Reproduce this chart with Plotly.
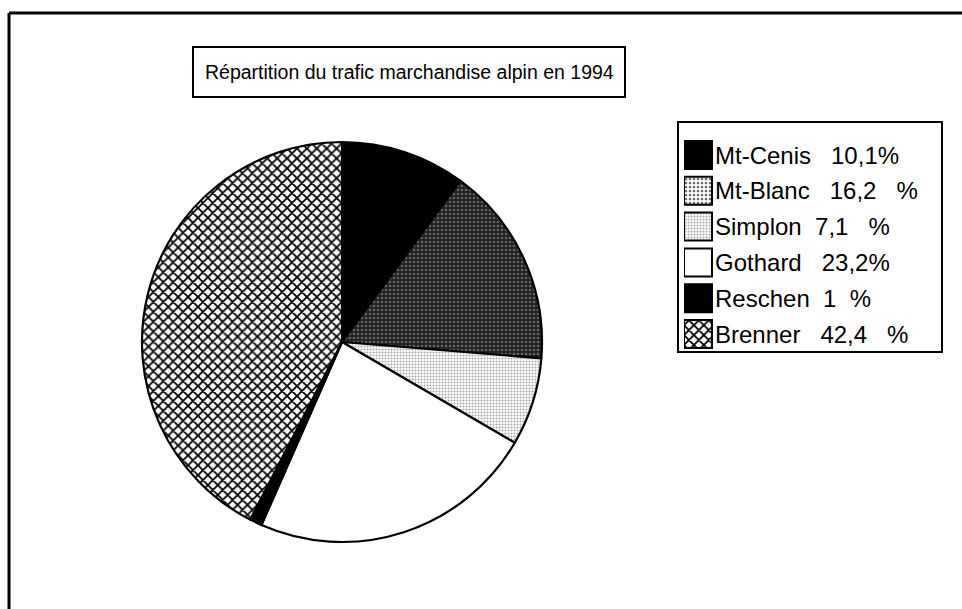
import plotly.graph_objects as go

# ---- data ----
passes = ["Mt-Cenis", "Mt-Blanc", "Simplon", "Gothard", "Reschen", "Brenner"]
shares = [10.1, 16.2, 7.1, 23.2, 1.0, 42.4]
legend_labels = [
    "Mt-Cenis  10,1%",
    "Mt-Blanc  16,2  %",
    "Simplon 7,1  %",
    "Gothard  23,2%",
    "Reschen 1 %",
    "Brenner  42,4  %",
]
title_text = "Répartition du trafic marchandise alpin en 1994"

# ---- styles ----
W, H = 962, 609
FONT = "Liberation Sans, Arial, Helvetica, sans-serif"
pat_shape = ["", ".", ".", "", "", "x"]
pat_bg = ["#000000", "#202020", "#ffffff", "#ffffff", "#000000", "#ffffff"]
pat_fg = ["#000000", "#666666", "#a8a8a8", "#ffffff", "#000000", "#000000"]
pat_size = [8, 4, 3, 8, 8, 7]
pat_sol = [0.3, 0.35, 0.4, 0.3, 0.3, 0.45]


def px(x):
    return x / W


def py(y):
    return 1 - y / H


def spaced(s):
    # widen the gaps the way the original typesetting does
    return s.replace("  ", "\u00a0" * 3).replace(" ", "\u00a0\u00a0")


pattern = dict(shape=pat_shape, bgcolor=pat_bg, fgcolor=pat_fg,
               size=pat_size, solidity=pat_sol, fillmode="replace")

fig = go.Figure()

# pie
cx, cy, r = 342, 342, 200
fig.add_trace(go.Pie(
    labels=passes, values=shares, sort=False, direction="clockwise",
    rotation=0, textinfo="none", hoverinfo="label+percent",
    marker=dict(colors=pat_fg, line=dict(color="black", width=2.2),
                pattern=pattern),
    domain=dict(x=[px(cx - r), px(cx + r)], y=[py(cy + r), py(cy - r)]),
    showlegend=False,
))

# legend swatches (drawn as bars on a hidden axis) + labels
row_h = 35.8
leg_top = 155 - row_h / 2
leg_bot = leg_top + row_h * len(passes)
sw_left, sw_size, ax_right = 684, 28, 942
fig.add_trace(go.Bar(
    y=passes, x=[1] * len(passes), orientation="h", width=sw_size / row_h,
    marker=dict(color=pat_fg, line=dict(color="black", width=2),
                pattern=pattern),
    text=[spaced(t) for t in legend_labels], textposition="outside",
    constraintext="none",
    textfont=dict(family=FONT, size=24, color="black"),
    cliponaxis=False, hoverinfo="skip", showlegend=False,
))

fig.update_layout(
    width=W, height=H,
    margin=dict(l=0, r=0, t=0, b=0),
    paper_bgcolor="white", plot_bgcolor="rgba(0,0,0,0)",
    font=dict(family=FONT, size=18, color="black"),
    xaxis=dict(domain=[px(sw_left), px(ax_right)], range=[0, (ax_right - sw_left) / sw_size],
               visible=False, fixedrange=True),
    yaxis=dict(domain=[py(leg_bot), py(leg_top)], type="category",
               range=[len(passes) - 0.5, -0.5], visible=False, fixedrange=True),
    showlegend=False,
    shapes=[
        # outer frame (top and left edges)
        dict(type="line", xref="paper", yref="paper", x0=px(9), x1=1, y0=py(13), y1=py(13),
             line=dict(color="black", width=3)),
        dict(type="line", xref="paper", yref="paper", x0=px(9), x1=px(9), y0=py(13), y1=0,
             line=dict(color="black", width=3)),
        # title box
        dict(type="rect", xref="paper", yref="paper", x0=px(193), x1=px(625), y0=py(97), y1=py(47),
             line=dict(color="black", width=2)),
        # legend box
        dict(type="rect", xref="paper", yref="paper", x0=px(678), x1=px(942), y0=py(352), y1=py(122),
             line=dict(color="black", width=2)),
    ],
    annotations=[
        dict(text=title_text, xref="paper", yref="paper", x=px(409), y=py(72),
             xanchor="center", yanchor="middle", showarrow=False,
             font=dict(family=FONT, size=19.5, color="black")),
    ],
)

fig.write_html("out.html", config={"displayModeBar": False},
               post_script="document.body.style.margin='0';")
